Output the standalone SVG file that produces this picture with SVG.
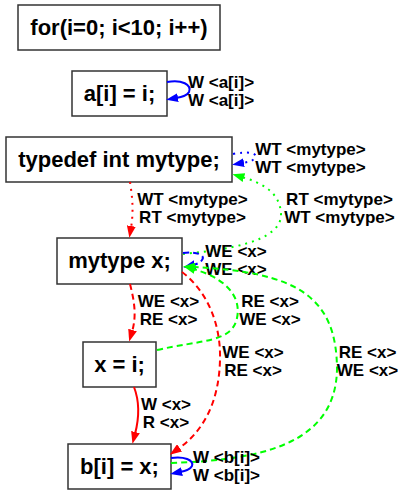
<svg xmlns="http://www.w3.org/2000/svg" width="398" height="491" viewBox="0 0 398 491">
<style>
.box{fill:#fff;stroke:#333;stroke-width:1.5}
.nt{font-family:"Liberation Sans",Arial,sans-serif;font-weight:bold;font-size:22px;text-anchor:middle;fill:#000}
.lb{font-family:"Liberation Sans",Arial,sans-serif;font-weight:bold;font-size:17px;text-anchor:middle;fill:#000}
.e{fill:none;stroke-width:2}
.r{stroke:#ff0000}.g{stroke:#00ff00}.b{stroke:#0000ff}
.dot{stroke-dasharray:2,5}
.dash{stroke-dasharray:6,4}
</style>
<defs>
<marker id="ar" viewBox="0 0 12 9" refX="2" refY="4.5" markerWidth="12" markerHeight="9" markerUnits="userSpaceOnUse" orient="auto"><path d="M0,0 L12,4.5 L0,9 z" fill="#ff0000"/></marker>
<marker id="ag" viewBox="0 0 12 9" refX="2" refY="4.5" markerWidth="12" markerHeight="9" markerUnits="userSpaceOnUse" orient="auto"><path d="M0,0 L12,4.5 L0,9 z" fill="#00ff00"/></marker>
<marker id="ab" viewBox="0 0 12 9" refX="2" refY="4.5" markerWidth="12" markerHeight="9" markerUnits="userSpaceOnUse" orient="auto"><path d="M0,0 L12,4.5 L0,9 z" fill="#0000ff"/></marker>
</defs>
<g id="n1"><rect class="box" x="18" y="5" width="202" height="45"/><text class="nt" x="119" y="35">for(i=0; i&lt;10; i++)</text></g>
<g id="n2"><rect class="box" x="72" y="71" width="95" height="45"/><text class="nt" x="119.5" y="101">a[i] = i;</text></g>
<g id="n3"><rect class="box" x="6" y="137" width="226" height="45"/><text class="nt" x="119" y="167">typedef int mytype;</text></g>
<g id="n4"><rect class="box" x="57" y="238" width="125" height="46"/><text class="nt" x="119.5" y="268">mytype x;</text></g>
<g id="n5"><rect class="box" x="83" y="342" width="73" height="45"/><text class="nt" x="119.5" y="372">x = i;</text></g>
<g id="n6"><rect class="box" x="68" y="444" width="103" height="45"/><text class="nt" x="119.5" y="474">b[i] = x;</text></g>
<g id="edges">
<path class="e b" d="M167,82 C182,79 192,85 189,92 C187,96 182,97 176,98" marker-end="url(#ab)"/>
<text class="lb" x="221" y="88">W &lt;a[i]&gt;</text><text class="lb" x="221" y="106">W &lt;a[i]&gt;</text>
<path class="e b dot" d="M233,154 C248,151 258,153 255,158 C253,161 248,162 242,163" marker-end="url(#ab)"/>
<text class="lb" x="310.5" y="155">WT &lt;mytype&gt;</text><text class="lb" x="310.5" y="173">WT &lt;mytype&gt;</text>
<path class="e g dot" d="M183,254 C225,250 282,242 281,214 C280,192 262,183 242,177" marker-end="url(#ag)"/>
<text class="lb" x="339.5" y="205">RT &lt;mytype&gt;</text><text class="lb" x="339.5" y="223">WT &lt;mytype&gt;</text>
<path class="e r dot" d="M130,182 C132,195 134,210 131,228" marker-end="url(#ar)"/>
<text class="lb" x="192.5" y="205">WT &lt;mytype&gt;</text><text class="lb" x="192.5" y="223">RT &lt;mytype&gt;</text>
<path class="e b dash" d="M183,253 C196,251 206,255 202,260 C200,263 197,264 193,265" marker-end="url(#ab)"/>
<text class="lb" x="236" y="257">WE &lt;x&gt;</text><text class="lb" x="236" y="275">WE &lt;x&gt;</text>
<path class="e g dash" d="M157,350 C200,340 232,343 237,318 C242,294 222,277 193,269" marker-end="url(#ag)"/>
<text class="lb" x="270" y="307">RE &lt;x&gt;</text><text class="lb" x="270" y="325">WE &lt;x&gt;</text>
<path class="e g dash" d="M171,463 C260,460 335,445 337,370 C337,295 295,272 193,267" marker-end="url(#ag)"/>
<text class="lb" x="367.5" y="358">RE &lt;x&gt;</text><text class="lb" x="367.5" y="376">WE &lt;x&gt;</text>
<path class="e r dash" d="M130,284 C134,300 137,315 132,332" marker-end="url(#ar)"/>
<text class="lb" x="168.5" y="307">WE &lt;x&gt;</text><text class="lb" x="168.5" y="325">RE &lt;x&gt;</text>
<path class="e r dash" d="M182,272 C208,292 221,325 220,360 C219,400 205,430 178,449" marker-end="url(#ar)"/>
<text class="lb" x="253" y="358">WE &lt;x&gt;</text><text class="lb" x="253" y="376">RE &lt;x&gt;</text>
<path class="e r" d="M134,387 C139,400 140,415 135,434" marker-end="url(#ar)"/>
<text class="lb" x="166" y="410">W &lt;x&gt;</text><text class="lb" x="166" y="428">R &lt;x&gt;</text>
<path class="e b" d="M171,458 C184,456 194,460 192,466 C190,470 185,471 180,472" marker-end="url(#ab)"/>
<text class="lb" x="226.5" y="463">W &lt;b[i]&gt;</text><text class="lb" x="226.5" y="481">W &lt;b[i]&gt;</text>
</g>
</svg>
